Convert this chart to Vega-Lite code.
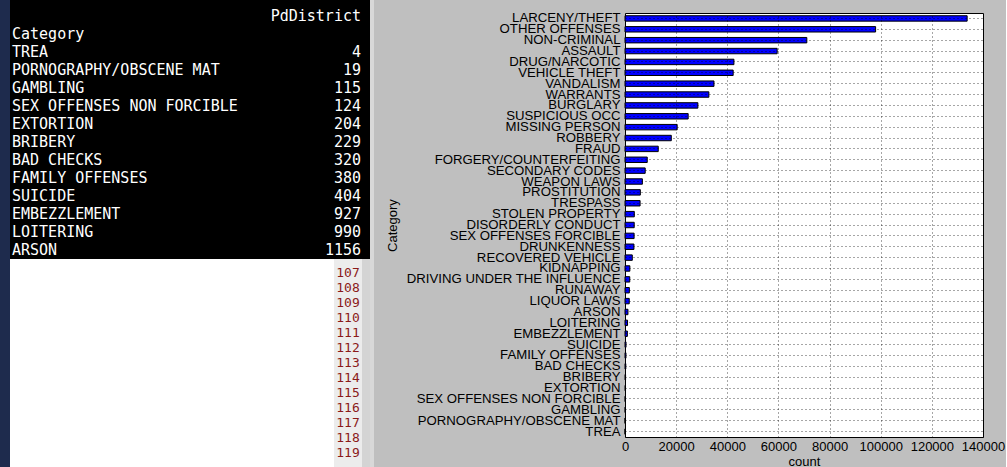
{
  "$schema": "https://vega.github.io/schema/vega-lite/v6.json",
  "background": "#bfbfbf",
  "padding": 0,
  "config": {"view": {"stroke": null}},
  "datasets": {
    "crimes": [
      {"Category": "LARCENY/THEFT", "count": 133800},
      {"Category": "OTHER OFFENSES", "count": 98000},
      {"Category": "NON-CRIMINAL", "count": 71100},
      {"Category": "ASSAULT", "count": 59500},
      {"Category": "DRUG/NARCOTIC", "count": 42600},
      {"Category": "VEHICLE THEFT", "count": 42300},
      {"Category": "VANDALISM", "count": 34800},
      {"Category": "WARRANTS", "count": 32800},
      {"Category": "BURGLARY", "count": 28500},
      {"Category": "SUSPICIOUS OCC", "count": 24700},
      {"Category": "MISSING PERSON", "count": 20400},
      {"Category": "ROBBERY", "count": 18100},
      {"Category": "FRAUD", "count": 13000},
      {"Category": "FORGERY/COUNTERFEITING", "count": 8700},
      {"Category": "SECONDARY CODES", "count": 7900},
      {"Category": "WEAPON LAWS", "count": 6800},
      {"Category": "PROSTITUTION", "count": 6000},
      {"Category": "TRESPASS", "count": 5900},
      {"Category": "STOLEN PROPERTY", "count": 3640},
      {"Category": "DISORDERLY CONDUCT", "count": 3600},
      {"Category": "SEX OFFENSES FORCIBLE", "count": 3560},
      {"Category": "DRUNKENNESS", "count": 3500},
      {"Category": "RECOVERED VEHICLE", "count": 2850},
      {"Category": "KIDNAPPING", "count": 1900},
      {"Category": "DRIVING UNDER THE INFLUENCE", "count": 1860},
      {"Category": "RUNAWAY", "count": 1700},
      {"Category": "LIQUOR LAWS", "count": 1660},
      {"Category": "ARSON", "count": 1156},
      {"Category": "LOITERING", "count": 990},
      {"Category": "EMBEZZLEMENT", "count": 927},
      {"Category": "SUICIDE", "count": 404},
      {"Category": "FAMILY OFFENSES", "count": 380},
      {"Category": "BAD CHECKS", "count": 320},
      {"Category": "BRIBERY", "count": 229},
      {"Category": "EXTORTION", "count": 204},
      {"Category": "SEX OFFENSES NON FORCIBLE", "count": 124},
      {"Category": "GAMBLING", "count": 115},
      {"Category": "PORNOGRAPHY/OBSCENE MAT", "count": 19},
      {"Category": "TREA", "count": 4}
    ],
    "lines": [
      {"line": 107}, {"line": 108}, {"line": 109}, {"line": 110}, {"line": 111},
      {"line": 112}, {"line": 113}, {"line": 114}, {"line": 115}, {"line": 116},
      {"line": 117}, {"line": 118}, {"line": 119}
    ]
  },
  "spacing": 11,
  "hconcat": [
    {
      "spacing": 0,
      "hconcat": [
        {
          "width": 10,
          "height": 467,
          "view": {"fill": "#1e2b4d", "stroke": null},
          "data": {"values": []},
          "mark": "point"
        },
        {
          "spacing": 0,
          "vconcat": [
            {
              "width": 360,
              "height": 259,
              "view": {"fill": "#000000", "stroke": null},
              "layer": [
                {
                  "data": {"name": "crimes"},
                  "transform": [{"filter": "datum.count < 1200"}],
                  "mark": {"type": "text", "align": "left", "baseline": "middle", "dx": 2, "font": "DejaVu Sans Mono", "fontSize": 15, "color": "#ffffff"},
                  "encoding": {
                    "x": {"datum": "Category", "type": "nominal", "scale": {"type": "point", "domain": ["Category", "PdDistrict"], "padding": 0}, "axis": null},
                    "y": {"field": "Category", "type": "nominal", "scale": {"type": "band", "domain": ["PdDistrict", "Category", "TREA", "PORNOGRAPHY/OBSCENE MAT", "GAMBLING", "SEX OFFENSES NON FORCIBLE", "EXTORTION", "BRIBERY", "BAD CHECKS", "FAMILY OFFENSES", "SUICIDE", "EMBEZZLEMENT", "LOITERING", "ARSON"], "paddingInner": 0, "paddingOuter": 0.2, "align": 1}, "axis": null},
                    "text": {"field": "Category"}
                  }
                },
                {
                  "data": {"name": "crimes"},
                  "transform": [{"filter": "datum.count < 1200"}],
                  "mark": {"type": "text", "align": "right", "baseline": "middle", "dx": -9, "font": "DejaVu Sans Mono", "fontSize": 15, "color": "#ffffff"},
                  "encoding": {
                    "x": {"datum": "PdDistrict", "type": "nominal"},
                    "y": {"field": "Category", "type": "nominal"},
                    "text": {"field": "count"}
                  }
                },
                {
                  "data": {"values": [{"h": "Category"}]},
                  "mark": {"type": "text", "align": "left", "baseline": "middle", "dx": 2, "font": "DejaVu Sans Mono", "fontSize": 15, "color": "#ffffff"},
                  "encoding": {
                    "x": {"field": "h", "type": "nominal"},
                    "y": {"field": "h", "type": "nominal"},
                    "text": {"field": "h"}
                  }
                },
                {
                  "data": {"values": [{"h": "PdDistrict"}]},
                  "mark": {"type": "text", "align": "right", "baseline": "middle", "dx": -9, "font": "DejaVu Sans Mono", "fontSize": 15, "color": "#ffffff"},
                  "encoding": {
                    "x": {"field": "h", "type": "nominal"},
                    "y": {"field": "h", "type": "nominal"},
                    "text": {"field": "h"}
                  }
                }
              ]
            },
            {
              "spacing": 0,
              "hconcat": [
                {
                  "width": 324,
                  "height": 208,
                  "view": {"fill": "#ffffff", "stroke": null},
                  "data": {"values": []},
                  "mark": "point"
                },
                {
                  "width": 28,
                  "height": 208,
                  "view": {"fill": "#ececec", "stroke": null},
                  "data": {"name": "lines"},
                  "mark": {"type": "text", "baseline": "middle", "font": "DejaVu Sans Mono", "fontSize": 13, "color": "#8b1a1a"},
                  "encoding": {
                    "y": {"field": "line", "type": "ordinal", "scale": {"type": "point", "padding": 0.95}, "axis": null},
                    "text": {"field": "line"}
                  }
                },
                {
                  "width": 8,
                  "height": 208,
                  "view": {"fill": "#d4d4d4", "stroke": null},
                  "data": {"values": []},
                  "mark": "point"
                }
              ]
            }
          ]
        },
        {
          "width": 4,
          "height": 467,
          "view": {"fill": "#d8d8d8", "stroke": null},
          "data": {"values": []},
          "mark": "point"
        }
      ]
    },
    {
      "spacing": 9,
      "vconcat": [
        {
          "width": 4,
          "height": 1,
          "view": {"fill": "#bfbfbf", "stroke": null},
          "data": {"values": []},
          "mark": "point"
        },
        {
          "width": 358,
          "height": 424,
          "view": {"fill": "#ffffff", "stroke": "#000000", "strokeWidth": 1},
          "data": {"name": "crimes"},
          "mark": {"type": "bar", "fill": "#0000ff", "stroke": "#000000", "strokeWidth": 1},
          "encoding": {
            "y": {
              "field": "Category",
              "type": "nominal",
              "sort": "-x",
              "scale": {"paddingInner": 0.5, "paddingOuter": 0.25},
              "axis": {
                "title": "Category",
                "titleX": -226,
                "bandPosition": 0.5,
                "grid": true,
                "gridColor": "#000000",
                "gridDash": [1, 3],
                "gridOpacity": 0.7,
                "ticks": false,
                "domain": false,
                "zindex": 1,
                "labelFont": "Liberation Sans",
                "labelFontSize": 13.2,
                "labelColor": "#000000",
                "labelPadding": 5,
                "labelLimit": 0,
                "labelOverlap": false,
                "titleFont": "Liberation Sans",
                "titleFontSize": 13,
                "titleFontWeight": "normal",
                "titleColor": "#000000"
              }
            },
            "x": {
              "field": "count",
              "type": "quantitative",
              "scale": {"domain": [0, 140000], "nice": false},
              "axis": {
                "title": "count",
                "values": [0, 20000, 40000, 60000, 80000, 100000, 120000, 140000],
                "format": "d",
                "grid": true,
                "gridColor": "#000000",
                "gridDash": [1, 3],
                "gridOpacity": 0.7,
                "ticks": false,
                "domain": false,
                "zindex": 1,
                "labelFont": "Liberation Sans",
                "labelFontSize": 13,
                "labelColor": "#000000",
                "labelPadding": 3,
                "labelFlush": false,
                "titleFont": "Liberation Sans",
                "titleFontSize": 13,
                "titleFontWeight": "normal",
                "titleColor": "#000000",
                "titlePadding": 2
              }
            }
          }
        }
      ]
    }
  ]
}
